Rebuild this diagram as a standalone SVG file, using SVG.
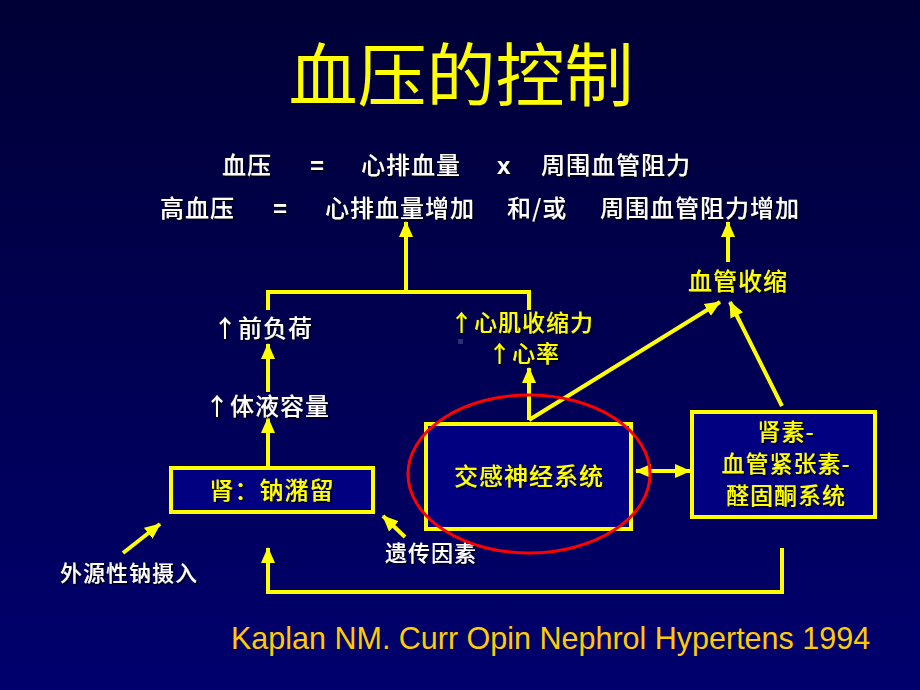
<svg xmlns="http://www.w3.org/2000/svg" width="920" height="690" viewBox="0 0 920 690">
<defs>
<linearGradient id="bg" x1="0" y1="0" x2="0" y2="1">
<stop offset="0" stop-color="#000036"/>
<stop offset="1" stop-color="#00006e"/>
</linearGradient>
<filter id="sh" x="-10%" y="-10%" width="120%" height="130%">
<feDropShadow dx="1.5" dy="1.5" stdDeviation="0.3" flood-color="#000000" flood-opacity="0.9"/>
</filter>
<marker id="ah" markerWidth="18" markerHeight="16" refX="15" refY="8" orient="auto" markerUnits="userSpaceOnUse">
<path d="M0,1 L16,8 L0,15 Z" fill="#ffff00"/>
</marker>
<marker id="ahs" markerWidth="18" markerHeight="16" refX="15" refY="8" orient="auto-start-reverse" markerUnits="userSpaceOnUse">
<path d="M0,1 L16,8 L0,15 Z" fill="#ffff00"/>
</marker>
<style>
.cn{font-family:"Noto Sans CJK SC","Liberation Sans",sans-serif;}
.w{fill:#ffffff;font-size:24px;font-weight:500;letter-spacing:1px;}
.y{fill:#ffff00;font-size:24px;font-weight:500;letter-spacing:1px;}
.s22{font-size:22px;}
.s23{font-size:23px;}
.ln{stroke:#ffff00;stroke-width:4;fill:none;}
.box{fill:#000080;stroke:#ffff00;stroke-width:4;}
</style>
</defs>
<rect width="920" height="690" fill="url(#bg)"/>

<g id="title">
<text x="461" y="101" text-anchor="middle" class="cn" font-size="69" fill="#ffff00">血压的控制</text>
</g>

<g id="eq1" filter="url(#sh)" class="cn w">
<text x="222" y="174">血压</text>
<text x="310" y="174" font-family="Liberation Sans" font-weight="bold">=</text>
<text x="361" y="174">心排血量</text>
<text x="497" y="174" font-family="Liberation Sans" font-weight="bold">x</text>
<text x="541" y="174">周围血管阻力</text>
</g>
<g id="eq2" filter="url(#sh)" class="cn w">
<text x="160" y="217">高血压</text>
<text x="273" y="217" font-family="Liberation Sans" font-weight="bold">=</text>
<text x="325" y="217">心排血量增加</text>
<text x="507" y="217">和/或</text>
<text x="600" y="217">周围血管阻力增加</text>
</g>

<g id="connectors">
<line x1="406" y1="292" x2="406" y2="222" class="ln" marker-end="url(#ah)"/>
<polyline points="268,310 268,292 529,292 529,310" class="ln"/>
<line x1="728" y1="262" x2="728" y2="222" class="ln" marker-end="url(#ah)"/>
<line x1="268" y1="392" x2="268" y2="344" class="ln" marker-end="url(#ah)"/>
<line x1="268" y1="466" x2="268" y2="418" class="ln" marker-end="url(#ah)"/>
<polyline points="529,420 529,368" class="ln" marker-end="url(#ah)"/>
<line x1="529" y1="420" x2="720" y2="302" class="ln" marker-end="url(#ah)"/>
<line x1="782" y1="406" x2="730" y2="302" class="ln" marker-end="url(#ah)"/>
<line x1="636" y1="471" x2="690" y2="471" class="ln" marker-start="url(#ahs)" marker-end="url(#ah)"/>
<line x1="123" y1="553" x2="160" y2="524" class="ln" marker-end="url(#ah)"/>
<line x1="405" y1="537" x2="383" y2="516" class="ln" marker-end="url(#ah)"/>
<polyline points="782,548 782,592 268,592 268,548" class="ln" marker-end="url(#ah)"/>
</g>

<g id="preload" filter="url(#sh)">
<text x="213" y="337" class="cn w">↑前负荷</text>
</g>
<g id="volume" filter="url(#sh)">
<text x="205" y="415" class="cn w">↑体液容量</text>
</g>
<g id="contract" filter="url(#sh)">
<text x="450" y="331" class="cn y s23">↑心肌收缩力</text>
<text x="488" y="362" class="cn y s23">↑心率</text>
</g>
<rect x="458" y="339" width="5" height="5" fill="#303070"/>
<g id="vasocon" filter="url(#sh)">
<text x="738" y="290" text-anchor="middle" class="cn y">血管收缩</text>
</g>

<g id="kidney">
<rect x="171" y="468" width="202" height="44" class="box"/>
<text x="272" y="499" text-anchor="middle" class="cn y" filter="url(#sh)">肾：钠潴留</text>
</g>

<g id="sns">
<rect x="426" y="424" width="205" height="105" class="box"/>
<text x="529" y="485" text-anchor="middle" class="cn y" font-weight="normal" filter="url(#sh)">交感神经系统</text>
</g>

<g id="raas">
<rect x="692" y="412" width="183" height="105" class="box"/>
<g text-anchor="middle" filter="url(#sh)">
<text x="786" y="440" class="cn y s23">肾素-</text>
<text x="786" y="472" class="cn y s23">血管紧张素-</text>
<text x="786" y="504" class="cn y s23">醛固酮系统</text>
</g>
</g>

<g id="sodium" filter="url(#sh)">
<text x="60" y="581" class="cn w s22">外源性钠摄入</text>
</g>
<g id="genetic" filter="url(#sh)">
<text x="385" y="561" class="cn w s22">遗传因素</text>
</g>

<g id="circle">
<ellipse cx="529" cy="474" rx="121" ry="79" fill="none" stroke="#ff0000" stroke-width="3"/>
</g>

<g id="citation">
<text x="231" y="649" font-family="Liberation Sans" font-size="30.5" fill="#ffcc00">Kaplan NM. Curr Opin Nephrol Hypertens 1994</text>
</g>
</svg>
